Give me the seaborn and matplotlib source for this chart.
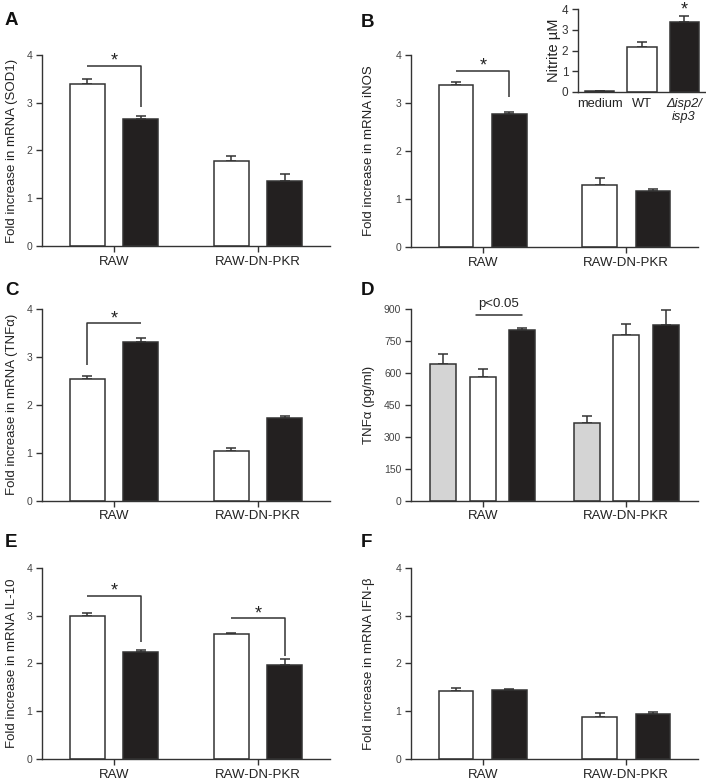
import numpy as np
import pandas as pd
import matplotlib
matplotlib.use("Agg")
import matplotlib.pyplot as plt
import seaborn as sns

sns.set_style("ticks")
plt.rcParams['font.family'] = ['Liberation Sans', 'DejaVu Sans']

# categories
cells = ['RAW', 'RAW-DN-PKR']
strains2 = ['WT', 'Δisp2/isp3']
strains3 = ['medium', 'WT', 'Δisp2/isp3']

# A: SOD1 mRNA
sod1_wt, sod1_wt_err = [3.39, 1.77], [0.11, 0.12]
sod1_mut, sod1_mut_err = [2.67, 1.37], [0.06, 0.13]
# B: iNOS mRNA
inos_wt, inos_wt_err = [3.37, 1.29], [0.07, 0.14]
inos_mut, inos_mut_err = [2.78, 1.17], [0.04, 0.04]
# B inset: nitrite
nitrite_labels = ['medium', 'WT', 'Δisp2/\nisp3']
nitrite = [0.05, 2.15, 3.38]
nitrite_err = [0.02, 0.27, 0.30]
# C: TNFa mRNA
tnf_wt, tnf_wt_err = [2.53, 1.04], [0.06, 0.05]
tnf_mut, tnf_mut_err = [3.31, 1.72], [0.08, 0.04]
# D: TNFa protein (pg/ml)
tnfp_med, tnfp_med_err = [644, 367], [46, 30]
tnfp_wt, tnfp_wt_err = [583, 778], [35, 53]
tnfp_mut, tnfp_mut_err = [801, 828], [9, 69]
# E: IL-10 mRNA
il10_wt, il10_wt_err = [2.99, 2.61], [0.06, 0.02]
il10_mut, il10_mut_err = [2.23, 1.97], [0.05, 0.13]
# F: IFN-b mRNA
ifnb_wt, ifnb_wt_err = [1.42, 0.885], [0.06, 0.07]
ifnb_mut, ifnb_mut_err = [1.44, 0.935], [0.02, 0.04]

palette = {'medium': '#d4d4d4', 'WT': 'white', 'Δisp2/isp3': '#231f20'}
EDGE = '#333333'


def long_df(levels, means, errs):
    rows = []
    for lev, m, e in zip(levels, means, errs):
        for c, v, s in zip(cells, m, e):
            rows.append({'cell': c, 'strain': lev, 'value': v, 'sem': s})
    return pd.DataFrame(rows)


def style_axis(ax, ylim, yticks, ylabel, xlab_size=9.5):
    sns.despine(ax=ax)
    for s in ['left', 'bottom']:
        ax.spines[s].set_color(EDGE)
        ax.spines[s].set_linewidth(1.0)
    ax.set_ylim(*ylim)
    ax.set_yticks(yticks)
    ax.tick_params(axis='y', direction='out', length=4, width=1, color=EDGE,
                   labelsize=7.5, labelcolor='#444444', pad=3)
    ax.tick_params(axis='x', direction='out', length=4, width=1, color=EDGE,
                   labelsize=xlab_size, labelcolor='#222222', pad=3)
    ax.set_xlabel('')
    ax.set_ylabel(ylabel, fontsize=9.5, color='#222222')


def bar_panel(ax, df, levels, width, gap, ylim, yticks, ylabel, lx):
    sns.barplot(data=df, x='cell', y='value', hue='strain', order=cells,
                hue_order=levels, palette=palette, width=width, gap=gap,
                errorbar=None, edgecolor=EDGE, linewidth=1.1, legend=False,
                ax=ax)
    centers = {}
    for lev, cont in zip(levels, ax.containers):
        sub = df[df.strain == lev].set_index('cell').loc[cells]
        xs = [p.get_x() + p.get_width() / 2 for p in cont]
        ax.errorbar(xs, sub['value'], yerr=[np.zeros(len(xs)), sub['sem']],
                    fmt='none', ecolor=EDGE, elinewidth=1.1, capsize=3.8,
                    capthick=1.1, zorder=0.5)
        centers[lev] = xs
    ax.set_xlim(-0.5, 1.5)
    style_axis(ax, ylim, yticks, ylabel)
    ax.yaxis.set_label_coords(lx, 0.5)
    return centers


def bracket(ax, x1, x2, ytop, ylow_left=None, ylow_right=None, label='*',
            size=13):
    xs, ys = [], []
    if ylow_left is not None:
        xs.append(x1); ys.append(ylow_left)
    xs += [x1, x2]; ys += [ytop, ytop]
    if ylow_right is not None:
        xs.append(x2); ys.append(ylow_right)
    ax.plot(xs, ys, color=EDGE, lw=1.1, solid_capstyle='butt')
    ax.text((x1 + x2) / 2, ytop, label, ha='center', va='baseline',
            fontsize=size, color='#222222')


fig = plt.figure(figsize=(7.06, 7.84), dpi=100)
W, H = 706, 784


def axes_px(x0, y0, x1, y1):
    return fig.add_axes([x0 / W, 1 - y1 / H, (x1 - x0) / W, (y1 - y0) / H])


ticks4 = [0, 1, 2, 3, 4]

# A
ax = axes_px(42, 55, 330, 246)
df = long_df(strains2, [sod1_wt, sod1_mut], [sod1_wt_err, sod1_mut_err])
c = bar_panel(ax, df, strains2, 0.74, 0.35, (0, 4), ticks4,
              'Fold increase in mRNA (SOD1)', -0.082)
bracket(ax, c['WT'][0], c['Δisp2/isp3'][0], 3.78, ylow_right=2.91)

# B
ax = axes_px(411, 55, 698, 247)
df = long_df(strains2, [inos_wt, inos_mut], [inos_wt_err, inos_mut_err])
c = bar_panel(ax, df, strains2, 0.74, 0.35, (0, 4), ticks4,
              'Fold increase in mRNA iNOS', -0.127)
bracket(ax, c['WT'][0], c['Δisp2/isp3'][0], 3.67, ylow_right=3.13)

# B inset
axi = axes_px(578, 9, 706, 92)
dfi = pd.DataFrame({'cond': strains3, 'value': nitrite, 'sem': nitrite_err})
sns.barplot(data=dfi, x='cond', y='value', hue='cond', order=strains3,
            palette=palette, width=0.69, errorbar=None, edgecolor=EDGE,
            linewidth=1.1, legend=False, ax=axi)
xs = [p.get_x() + p.get_width() / 2 for p in axi.patches]
axi.errorbar(xs, dfi['value'], yerr=[np.zeros(3), dfi['sem']], fmt='none',
             ecolor=EDGE, elinewidth=1.1, capsize=3.8, capthick=1.1,
             zorder=0.5)
axi.set_xlim(-0.52, 2.52)
style_axis(axi, (0, 4), ticks4, 'Nitrite µM')
axi.set_ylabel('Nitrite µM', fontsize=10.5, color='#222222')
axi.set_xticks(range(3))
axi.set_xticklabels(nitrite_labels)
axi.get_xticklabels()[2].set_fontstyle('italic')
axi.tick_params(axis='x', length=0, labelsize=9.3, pad=4)
axi.tick_params(axis='y', labelsize=8.5, labelcolor='#333333')
axi.yaxis.set_label_coords(-0.13, 0.5)
axi.text(xs[2], 3.75, '*', ha='center', va='baseline', fontsize=13,
         color='#222222', clip_on=False)

# C
ax = axes_px(42, 308.7, 330, 500.7)
df = long_df(strains2, [tnf_wt, tnf_mut], [tnf_wt_err, tnf_mut_err])
c = bar_panel(ax, df, strains2, 0.74, 0.35, (0, 4), ticks4,
              'Fold increase in mRNA (TNFα)', -0.082)
bracket(ax, c['WT'][0], c['Δisp2/isp3'][0], 3.70, ylow_left=2.83)

# D
ax = axes_px(411, 309.3, 698, 500.7)
df = long_df(strains3, [tnfp_med, tnfp_wt, tnfp_mut],
             [tnfp_med_err, tnfp_wt_err, tnfp_mut_err])
c = bar_panel(ax, df, strains3, 0.825, 0.34, (0, 900),
              [0, 150, 300, 450, 600, 750, 900], 'TNFα (pg/ml)', -0.127)
x1, x2 = c['WT'][0] - 0.05, c['Δisp2/isp3'][0]
ax.plot([x1, x2], [872, 872], color=EDGE, lw=1.1, clip_on=False)
ax.text((x1 + x2) / 2, 910, 'p<0.05', ha='center', va='baseline',
        fontsize=9.5, color='#222222', clip_on=False)

# E
ax = axes_px(42, 567.7, 330, 759)
df = long_df(strains2, [il10_wt, il10_mut], [il10_wt_err, il10_mut_err])
c = bar_panel(ax, df, strains2, 0.74, 0.35, (0, 4), ticks4,
              'Fold increase in mRNA IL-10', -0.082)
bracket(ax, c['WT'][0], c['Δisp2/isp3'][0], 3.41, ylow_right=2.45)
bracket(ax, c['WT'][1], c['Δisp2/isp3'][1], 2.94, ylow_right=2.15)

# F
ax = axes_px(411, 567.7, 698, 759)
df = long_df(strains2, [ifnb_wt, ifnb_mut], [ifnb_wt_err, ifnb_mut_err])
bar_panel(ax, df, strains2, 0.74, 0.35, (0, 4), ticks4,
          'Fold increase in mRNA IFN-β', -0.127)

# panel letters
for letter, (px, py) in {'A': (5, 25), 'B': (361, 27), 'C': (5, 295),
                         'D': (361, 295), 'E': (5, 547),
                         'F': (361, 547)}.items():
    fig.text(px / W, 1 - py / H, letter, fontsize=13.5, fontweight='bold',
             va='baseline', ha='left', color='#111111')

fig.savefig('out.png', dpi=100)
